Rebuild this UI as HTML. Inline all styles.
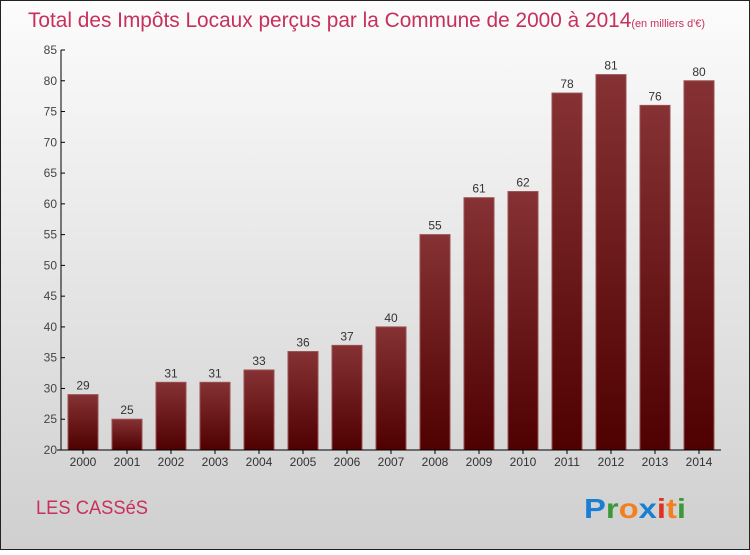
<!DOCTYPE html>
<html><head><meta charset="utf-8"><style>
body{margin:0;width:750px;height:550px;overflow:hidden;font-family:"Liberation Sans",sans-serif}
</style></head><body>
<svg width="750" height="550" xmlns="http://www.w3.org/2000/svg">
<defs>
<linearGradient id="bg" x1="0" y1="0" x2="0" y2="1"><stop offset="0" stop-color="#fcfcfc"/><stop offset="1" stop-color="#cfcfcf"/></linearGradient>
<linearGradient id="bar" x1="0" y1="0" x2="0" y2="1"><stop offset="0" stop-color="#863234"/><stop offset="1" stop-color="#4f0000"/></linearGradient>
</defs>
<rect x="0.5" y="0.5" width="749" height="549" fill="url(#bg)" stroke="#222"/>
<text x="28" y="27" font-size="21" fill="#c8305c" textLength="677" lengthAdjust="spacingAndGlyphs">Total des Impôts Locaux perçus par la Commune de 2000 à 2014<tspan font-size="11">(en milliers d'€)</tspan></text>
<g id="plot"></g>
<text x="36" y="514" font-size="19" fill="#c8305c" textLength="112" lengthAdjust="spacingAndGlyphs">LES CASSéS</text>
<text x="584" y="518" font-size="28" font-weight="bold" textLength="102" lengthAdjust="spacingAndGlyphs"><tspan fill="#1a7fd4">P</tspan><tspan fill="#3a9a3a">r</tspan><tspan fill="#f08020">o</tspan><tspan fill="#1a7fd4">x</tspan><tspan fill="#e03020">i</tspan><tspan fill="#f08020">t</tspan><tspan fill="#3a9a3a">i</tspan></text>
</svg>
<script>
const categories=["2000","2001","2002","2003","2004","2005","2006","2007","2008","2009","2010","2011","2012","2013","2014"];
const values=[29,25,31,31,33,36,37,40,55,61,62,78,81,76,80];
const yTicks=[20,25,30,35,40,45,50,55,60,65,70,75,80,85];
const NS="http://www.w3.org/2000/svg";
const g=document.getElementById("plot");
const x0=61,x1=721,yb=450,yt=50,ymin=20,ymax=85;
const band=(x1-x0)/categories.length;
const y=v=>yb-(v-ymin)/(ymax-ymin)*(yb-yt);
const xc=i=>x0+band*(i+0.5);
function mk(t,a){const e=document.createElementNS(NS,t);for(const k in a)e.setAttribute(k,a[k]);g.appendChild(e);return e;}
values.forEach((v,i)=>{
 const r=mk("rect",{x:xc(i)-15,y:y(v),width:30,height:yb-y(v),fill:"url(#bar)",stroke:"#9a5052","stroke-width":1});
 
 
 const t=mk("text",{x:xc(i),y:y(v)-5,"text-anchor":"middle","font-size":12,fill:"#333"});t.textContent=v;
 
 
 const c=mk("text",{x:xc(i),y:466,"text-anchor":"middle","font-size":12,fill:"#333"});c.textContent=categories[i];
 
 
 mk("line",{x1:xc(i),x2:xc(i),y1:yb,y2:yb+4,stroke:"#000"});
});
yTicks.forEach(v=>{
 mk("line",{x1:x0,x2:x0+4,y1:y(v),y2:y(v),stroke:"#000"});
 const t=mk("text",{x:x0-4,y:y(v)+4,"text-anchor":"end","font-size":12,fill:"#444"});t.textContent=v;
 
 
});
const ya=mk("line",{x1:x0,x2:x0,y1:yt,y2:yb,stroke:"#000"});


const xa=mk("line",{x1:x0-4,x2:x1,y1:yb,y2:yb,stroke:"#000"});


</script>
</body></html>
